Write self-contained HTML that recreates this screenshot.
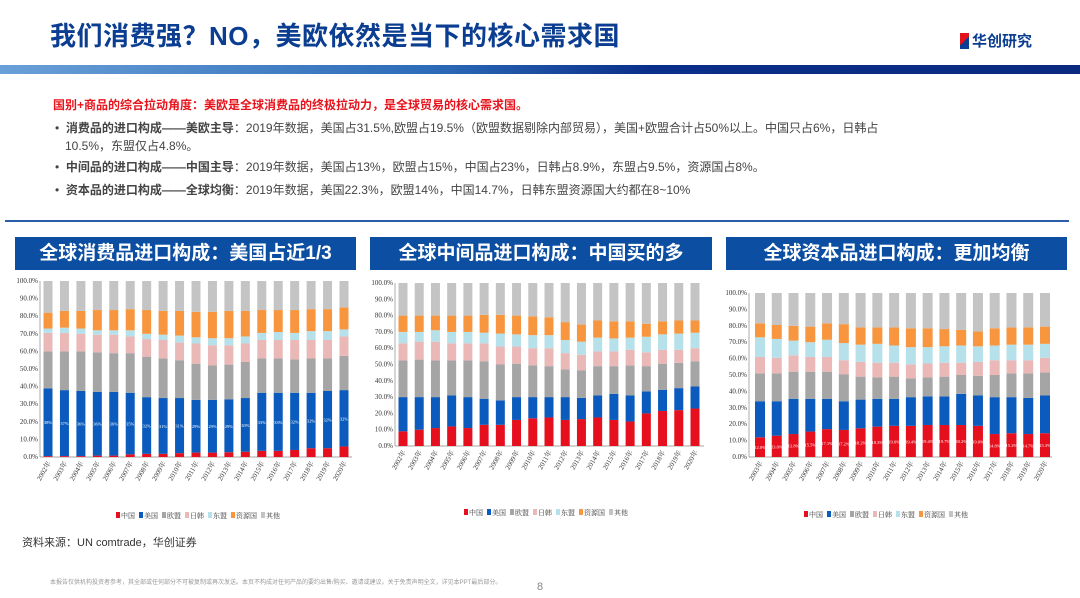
<!DOCTYPE html>
<html><head><meta charset="utf-8">
<style>
body{margin:0;width:1080px;height:598px;position:relative;background:#fff;font-family:"Liberation Sans","Noto Sans CJK SC",sans-serif;overflow:hidden}
.abs{position:absolute}
#title{left:50px;top:16px;font-size:26px;font-weight:bold;color:#0b3d91;letter-spacing:0.5px}
#band{left:0;top:65px;width:1080px;height:9px;background:linear-gradient(100deg,#6aa0d8 0%,#2c6bb8 40%,#0a2f8a 60%,#0a2a80 100%)}
.txt{font-size:12px;color:#444;left:55px}
.hdr{top:237px;height:33px;background:#0c4ea2;color:#fff;font-size:19px;font-weight:bold;text-align:center;line-height:33px}
svg text{font-family:"Liberation Serif","Noto Serif CJK SC",serif}
</style></head><body>
<div class="abs" id="title">我们消费强？NO，美欧依然是当下的核心需求国</div>
<div class="abs" style="left:960px;top:30px;font-size:15px;font-weight:bold;color:#0b3d91"><span style="display:inline-block;width:9px;height:16px;background:linear-gradient(135deg,#e2121a 50%,#0b3d91 50%);vertical-align:-3px;margin-right:3px"></span>华创研究</div>
<div class="abs" id="band"></div>
<div class="abs" style="left:53px;top:96px;font-size:12px;font-weight:bold;color:#e8131b">国别+商品的综合拉动角度：美欧是全球消费品的终极拉动力，是全球贸易的核心需求国。</div>
<div class="abs txt" style="top:119px;width:900px;line-height:18px">•&nbsp;&nbsp;<b>消费品的进口构成——美欧主导</b>：2019年数据，美国占31.5%,欧盟占19.5%（欧盟数据剔除内部贸易），美国+欧盟合计占50%以上。中国只占6%，日韩占<br>&nbsp;&nbsp;&nbsp;10.5%，东盟仅占4.8%。</div>
<div class="abs txt" style="top:158px">•&nbsp;&nbsp;<b>中间品的进口构成——中国主导</b>：2019年数据，美国占13%，欧盟占15%，中国占23%，日韩占8.9%，东盟占9.5%，资源国占8%。</div>
<div class="abs txt" style="top:181px">•&nbsp;&nbsp;<b>资本品的进口构成——全球均衡</b>：2019年数据，美国22.3%，欧盟14%，中国14.7%，日韩东盟资源国大约都在8~10%</div>
<div class="abs" style="left:5px;top:220px;width:1064px;height:2px;background:#2a5ea8"></div>
<div class="abs hdr" style="left:15px;width:341px">全球消费品进口构成：美国占近1/3</div>
<div class="abs hdr" style="left:370px;width:342px">全球中间品进口构成：中国买的多</div>
<div class="abs hdr" style="left:726px;width:341px">全球资本品进口构成：更加均衡</div>
<svg class="abs" id="chart" style="left:0;top:0" width="1080" height="598"></svg>
<div class="abs" style="left:22px;top:534px;font-size:11px;color:#333">资料来源：UN comtrade，华创证券</div>
<div class="abs" style="left:50px;top:577px;font-size:6px;color:#999">本报告仅供机构投资者参考，其全部或任何部分不可被复制或再次发送。本页不构成对任何产品的要约出售/购买、邀请或建议。关于免责声明全文，详见本PPT最后部分。</div>
<div class="abs" style="left:537px;top:581px;font-size:11px;color:#888">8</div>
<script>
const seriesNames=["中国","美国","欧盟","日韩","东盟","资源国","其他"];
const colors=["#e60f1e","#0a5bbd","#a5a5a5","#ebb8b8","#b6e0ea","#f7963e","#c4c4c4"];
// cumulative tops per year: China, +US, +EU, +JK, +ASEAN, +Resource (rest = others)
const c1Years=["2002年","2003年","2004年","2005年","2006年","2007年","2008年","2009年","2010年","2011年","2012年","2013年","2014年","2015年","2016年","2017年","2018年","2019年","2020年"];
const c1China=[0.5,0.5,0.5,0.8,0.8,1.5,1.8,1.8,2.2,2.5,2.5,2.7,3,3.5,3.5,4,5,5,6];
const c1US=[39,38,37.5,37,37,36.5,34,33.5,33.5,32.5,32.5,32.8,33.5,36.5,36.5,36.5,36.5,37.5,38];
const c1EU=[60,60,60,59.5,59,59,57,56,55,53,52,52.5,54,56,56,55.5,56,56,57.5];
const c1JK=[70.5,70.5,70,69.5,69.5,68.5,67,66.5,65,64.5,63.5,63.5,64.5,66.5,66.5,66.5,66.5,66.5,68.5];
const c1AS=[73,73.5,73,72,72,72,70,69.5,69,68,67.5,67.5,68.5,70.5,71,70.5,71.5,71.5,72.5];
const c1RS=[82,83,83,83.5,83.5,84,83.5,83,83,82.5,82.5,83,83,83.5,83.5,83.5,84,84,85];
const c1Labels=["38%","37%","36%","36%","36%","35%","32%","31%","31%","29%","29%","29%","30%","33%","33%","32%","32%","32%","32%"];
const c2Years=c1Years;
const c2China=[9,10,11,12,11,13,13,16,17,17.5,16,16.5,17.5,16,15,20,21.5,22,23];
const c2US=[30,30,30,31,30,29,28,30,30,30,30,29.5,31,32,31,33.5,34.5,35.5,36.5];
const c2EU=[52.5,53,52.5,52.5,52.5,52,50,50.5,49.5,49,47,46.5,49,49,49.5,49,50.5,51,52];
const c2JK=[63,64,64,63,63,63,61,61,60,60,57,56,58,58,59,57.5,59,59,60];
const c2AS=[70,70,71,70,70,69.5,69,68.5,68,68,65,64,66.5,66,66.5,67,68.5,69,69.5];
const c2RS=[80,80,80,80,80,80.5,80.5,80,79.5,79,76,74.5,77,76.5,76.5,75,76.5,77,77];
const c3Years=["2003年","2004年","2005年","2006年","2007年","2008年","2009年","2010年","2011年","2012年","2013年","2014年","2015年","2016年","2017年","2018年","2019年","2020年"];
const c3China=[12,13,14,15.5,17,16.5,17.5,18.5,19,19,19.5,19.5,19.5,19,14,14.5,14,14.5];
const c3US=[34,34,35.5,35.5,35.5,34,35,35.5,35.5,36.5,37,37,38.5,37.5,36.5,36.5,36,37.5];
const c3EU=[51,51,52,52,52,50.5,49,48.5,49,48,48.5,49,50,49.5,50,51,51,51.5];
const c3JK=[61,60.5,62,61,61,59,58,57.5,57.5,56.5,57,57.5,57.5,58,59,59,59,60.5];
const c3AS=[73,72,71,70,71.5,69.5,68.5,69,68,67,67,67.5,68,67.5,68,68.5,68.5,69];
const c3RS=[81.5,80.5,80,79.5,81.5,81,79,79,79,78.5,78.5,78,77.5,76.5,78.5,79,79,79.5];
const c3Labels=["12.0%","13.0%","13.8%","15.5%","17.1%","17.2%","18.2%","18.3%","19.0%","19.4%","19.4%","19.7%","20.2%","19.0%","14.8%","15.2%","14.7%","15.3%"];
const ticks=["0.0%","10.0%","20.0%","30.0%","40.0%","50.0%","60.0%","70.0%","80.0%","90.0%","100.0%"];
const svg=document.getElementById('chart');const NS="http://www.w3.org/2000/svg";
function mk(t,a){const e=document.createElementNS(NS,t);for(const k in a)e.setAttribute(k,a[k]);svg.appendChild(e);return e;}
function draw(id,cfg){
 const {years,cums,labels,labelSeries,x0,x1,first,last,y0,y100,bw,legY,legX}=cfg;
 const y=v=>y0+(y100-y0)*v/100;
 const step=(last-first)/(years.length-1);
 const xc=i=>first+i*step;
 for(let t=0;t<ticks.length;t++){
  const tx=mk('text',{x:x0-2,y:y(t*10)+2,'font-size':7,'text-anchor':'end',fill:'#333'});tx.textContent=ticks[t];
  
  
 }
 const ax=mk('line',{x1:x0,x2:x0,y1:y(0),y2:y(100),stroke:'#888','stroke-width':0.7});
 
 
 const bx=mk('line',{x1:x0,x2:x1,y1:y(0),y2:y(0),stroke:'#888','stroke-width':0.7});
 
 
 years.forEach((yr,i)=>{
  let prev=0;
  for(let s=0;s<7;s++){
   const top=s<6?cums[s][i]:100;
   const r=mk('rect',{x:xc(i)-bw/2,y:y(top),width:bw,height:y(prev)-y(top),fill:colors[s]});
   
   
   prev=top;
  }
  if(labels){const lo=labelSeries?cums[labelSeries-1][i]:0;const hi=cums[labelSeries][i];
   const t=mk('text',{x:xc(i),y:(y(lo)+y(hi))/2+2,'font-size':4.5,fill:'#fff','text-anchor':'middle'});t.textContent=labels[i];
   
   }
  const xl=mk('text',{x:xc(i)+3,y:y(0)+6,'font-size':7,'text-anchor':'end',fill:'#333',transform:`rotate(-60 ${xc(i)+3} ${y(0)+6})`});xl.textContent=yr;
  
  
 });
 let lx=legX;
 seriesNames.forEach((n,s)=>{
  const r=mk('rect',{x:lx,y:legY-5,width:4,height:6,fill:colors[s]});
  
  
  const t=mk('text',{x:lx+5,y:legY+1,'font-size':7,fill:'#333'});t.textContent=n;
  
  
  lx+=5+n.length*7+4;
 });
}
draw('c1',{years:c1Years,cums:[c1China,c1US,c1EU,c1JK,c1AS,c1RS],labels:c1Labels,labelSeries:1,x0:40,x1:352,first:48,last:344,y0:457,y100:281,bw:9,legY:517,legX:116});
draw('c2',{years:c2Years,cums:[c2China,c2US,c2EU,c2JK,c2AS,c2RS],labels:null,x0:395,x1:704,first:403,last:695,y0:446,y100:283,bw:9,legY:514,legX:464});
draw('c3',{years:c3Years,cums:[c3China,c3US,c3EU,c3JK,c3AS,c3RS],labels:c3Labels,labelSeries:0,x0:749,x1:1052,first:760,last:1045,y0:457,y100:293,bw:10,legY:516,legX:804});
</script>
</body></html>
